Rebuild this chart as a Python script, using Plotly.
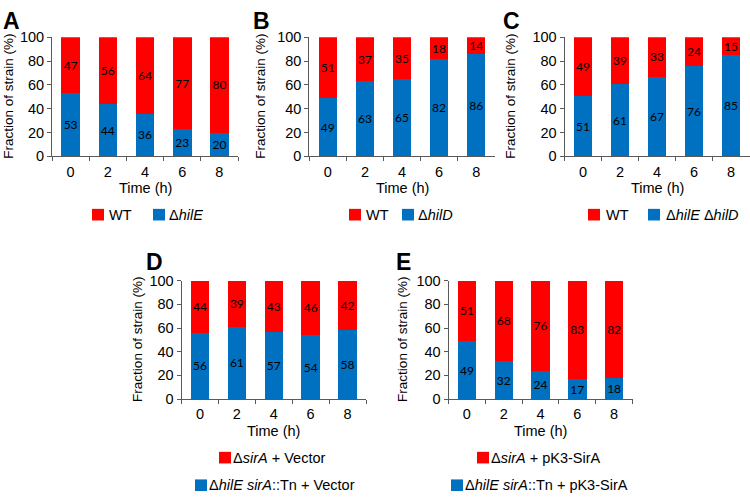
import plotly.graph_objects as go

time_labels = ["0", "2", "4", "6", "8"]

a_wt = [47, 56, 64, 77, 80]
a_mut = [53, 44, 36, 23, 20]
b_wt = [51, 37, 35, 18, 14]
b_mut = [49, 63, 65, 82, 86]
c_wt = [49, 39, 33, 24, 15]
c_mut = [51, 61, 67, 76, 85]
d_red = [44, 39, 43, 46, 42]
d_blue = [56, 61, 57, 54, 58]
e_red = [51, 68, 76, 83, 82]
e_blue = [49, 32, 24, 17, 18]

yticks = [0, 20, 40, 60, 80, 100]

RED = "#FF0000"
BLUE = "#0070C0"
AXC = "#595959"
W, H = 750, 500

def px(x):
    return x / W

def py(y):
    return 1 - y / H

# panel geometry in pixels: (x0, x1, ytop, ybottom)
panels = [
    dict(key="A", blue=a_mut, red=a_wt, x0=52, x1=238, yt=30.3, yb=153.3),
    dict(key="B", blue=b_mut, red=b_wt, x0=309.3, x1=494.7, yt=30.3, yb=153.3),
    dict(key="C", blue=c_mut, red=c_wt, x0=564.5, x1=749.5, yt=30.3, yb=153.3),
    dict(key="D", blue=d_blue, red=d_red, x0=181.5, x1=366, yt=281.7, yb=404),
    dict(key="E", blue=e_blue, red=e_red, x0=448.5, x1=632.5, yt=281.7, yb=404),
]

fig = go.Figure()
layout = dict(
    width=W, height=H, margin=dict(l=0, r=0, t=0, b=0),
    paper_bgcolor="white", plot_bgcolor="rgba(0,0,0,0)",
    barmode="stack", bargap=0.5, showlegend=False,
    font=dict(family="Liberation Sans, Arial", size=14, color="#000"),
)

for i, p in enumerate(panels):
    n = "" if i == 0 else str(i + 1)
    xa, ya = "x" + n, "y" + n
    for vals, col in ((p["blue"], BLUE), (p["red"], RED)):
        fig.add_trace(go.Bar(
            x=time_labels, y=vals, xaxis=xa, yaxis=ya,
            marker=dict(color=col, line=dict(width=0)),
            text=[str(v) for v in vals], textposition="inside",
            insidetextanchor="middle", textangle=0,
            constraintext="none",
            textfont=dict(family="Lato, Carlito, sans-serif", size=12, color="#000"),
            hoverinfo="skip",
        ))
    layout["xaxis" + n] = dict(
        domain=[px(p["x0"]), px(p["x1"])], anchor=ya,
        type="category", range=[-0.5, 4.5], tickson="boundaries",
        ticks="outside", ticklen=4, tickcolor=AXC, tickwidth=1,
        showline=True, linecolor=AXC, linewidth=1, showgrid=False,
        tickfont=dict(size=14.5), ticklabelstandoff=2, fixedrange=True,
    )
    layout["yaxis" + n] = dict(
        domain=[py(p["yb"]), py(p["yt"])], anchor=xa,
        range=[0, 100], tickvals=yticks,
        ticks="outside", ticklen=4, tickcolor=AXC, tickwidth=1,
        showline=True, linecolor=AXC, linewidth=1, showgrid=False,
        zeroline=False, tickfont=dict(size=14.5), fixedrange=True,
    )

annotations = []
shapes = []

def text(x, y, s, size=14, anchor="center", angle=0):
    annotations.append(dict(
        x=px(x), y=py(y), xref="paper", yref="paper", text=s,
        showarrow=False, xanchor=anchor, yanchor="middle", textangle=angle,
        font=dict(size=size, family="Liberation Sans, Arial", color="#000"),
    ))

def square(x0, y0, col, s=12):
    shapes.append(dict(type="rect", xref="paper", yref="paper",
                       x0=px(x0), x1=px(x0 + s), y0=py(y0 + s), y1=py(y0),
                       fillcolor=col, line=dict(width=0)))

# panel letters
for letter, x, y in (("A", 11, 13), ("B", 261, 13), ("C", 511, 13), ("D", 154, 262), ("E", 403, 262)):
    text(x, y, "<b>" + letter + "</b>", size=23)

# y titles
for x, p in zip((9, 261, 511, 138, 403), panels):
    text(x, (p["yt"] + p["yb"]) / 2, "Fraction of strain (%)", size=13.5, angle=-90)

# x titles
for p in panels:
    text((p["x0"] + p["x1"]) / 2, p["yb"] + 33, "Time (h)", size=14.5)

# legends row 1
leg1 = [
    (92, 107, "WT", 153, 167, "Δ<i>hilE</i>"),
    (349, 364, "WT", 402, 416, "Δ<i>hilD</i>"),
    (588, 604, "WT", 648, 664, "Δ<i>hilE</i> Δ<i>hilD</i>"),
]
for rx, rtx, rt, bx, btx, bt in leg1:
    square(rx, 207.5, RED)
    text(rtx, 213.5, rt, anchor="left", size=14.5)
    square(bx, 207.5, BLUE)
    text(btx, 213.5, bt, anchor="left", size=14.5)

# legends row 2
square(219, 458.5, RED)
text(231, 464.5, "Δ<i>sirA</i> + Vector", anchor="left", size=14.5)
square(195, 487, BLUE)
text(207, 493, "Δ<i>hilE sirA</i>::Tn + Vector", anchor="left", size=14.5)
square(477, 458.5, RED)
text(489, 464.5, "Δ<i>sirA</i> + pK3-SirA", anchor="left", size=14.5)
square(451, 487, BLUE)
text(463, 493, "Δ<i>hilE sirA</i>::Tn + pK3-SirA", anchor="left", size=14.5)

layout["annotations"] = annotations
layout["shapes"] = shapes
fig.update_layout(**layout)

post = (
    "var gd=document.getElementById('{plot_id}');"
    "gd.style.position='fixed';gd.style.top='0px';gd.style.left='0px';"
    "document.documentElement.style.margin='0';document.documentElement.style.padding='0';"
    "document.documentElement.style.height='500px';document.documentElement.style.overflow='hidden';"
    "document.body.style.margin='0';document.body.style.padding='0';"
    "document.body.style.height='500px';document.body.style.overflow='hidden';"
)
fig.write_html("out.html", config={"displayModeBar": False}, post_script=post)
